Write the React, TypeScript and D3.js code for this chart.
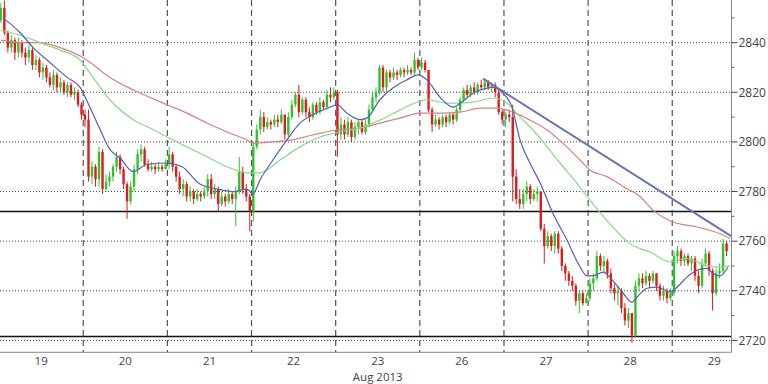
import React from "react";
import * as d3 from "d3";

// Hourly candles, 24 per trading day (day 29 partial)
const dayLabels = ["19", "20", "21", "22", "23", "26", "27", "28", "29"];
const monthLabel = "Aug 2013";
const candlesPerDay = 24;
const firstOpen = 2849;

const closes = [
  // 19
  2854, 2844, 2838, 2841, 2836, 2840, 2836, 2834, 2837, 2831, 2833, 2828, 2830, 2826, 2823, 2827, 2822, 2824, 2820, 2823, 2819, 2820, 2815, 2811,
  // 20
  2809, 2786, 2790, 2785, 2796, 2781, 2784, 2786, 2790, 2794, 2789, 2783, 2776, 2782, 2789, 2795, 2797, 2791, 2789, 2790, 2789, 2790, 2789, 2791,
  // 21
  2795, 2790, 2786, 2781, 2783, 2778, 2780, 2777, 2779, 2778, 2780, 2785, 2779, 2781, 2775, 2778, 2776, 2779, 2777, 2780, 2788, 2781, 2778, 2772,
  // 22
  2798, 2805, 2810, 2806, 2808, 2807, 2809, 2808, 2811, 2803, 2810, 2815, 2819, 2812, 2817, 2812, 2810, 2815, 2812, 2816, 2814, 2819, 2818, 2820,
  // 23
  2803, 2807, 2803, 2808, 2802, 2806, 2808, 2804, 2807, 2813, 2818, 2820, 2830, 2822, 2828, 2826, 2828, 2827, 2829, 2828, 2829, 2828, 2833, 2830,
  // 26
  2832, 2829, 2813, 2807, 2809, 2807, 2810, 2808, 2811, 2809, 2813, 2817, 2821, 2819, 2822, 2820, 2823, 2822, 2824, 2822, 2823, 2820, 2812, 2809,
  // 27
  2811, 2810, 2786, 2777, 2775, 2779, 2782, 2777, 2779, 2780, 2765, 2758, 2762, 2758, 2763, 2757, 2750, 2747, 2744, 2742, 2736, 2739, 2735, 2737,
  // 28
  2743, 2745, 2754, 2750, 2752, 2747, 2741, 2739, 2740, 2733, 2728, 2731, 2722, 2742, 2745, 2743, 2746, 2744, 2747, 2742, 2738, 2740, 2737, 2739,
  // 29
  2754, 2756, 2752, 2754, 2751, 2753, 2746, 2742, 2751, 2755, 2748, 2739, 2747, 2748, 2759, 2756,
];

const highs = [
  2856, 2857, 2845, 2843, 2842, 2842, 2841, 2838, 2839, 2838, 2835, 2834, 2832, 2831, 2828, 2829, 2828, 2826, 2825, 2824, 2824, 2822, 2821, 2816,
  2813, 2813, 2792, 2791, 2798, 2797, 2787, 2788, 2791, 2796, 2795, 2790, 2784, 2784, 2791, 2797, 2799, 2798, 2793, 2792, 2791, 2792, 2791, 2793,
  2798, 2796, 2791, 2788, 2785, 2784, 2782, 2781, 2781, 2780, 2782, 2787, 2787, 2783, 2782, 2780, 2779, 2781, 2780, 2782, 2794, 2790, 2783, 2779,
  2800, 2807, 2813, 2812, 2810, 2809, 2811, 2811, 2813, 2811, 2812, 2817, 2820, 2823, 2818, 2818, 2814, 2816, 2816, 2818, 2817, 2821, 2822, 2822,
  2821, 2810, 2809, 2810, 2809, 2808, 2809, 2809, 2809, 2815, 2820, 2822, 2831, 2831, 2829, 2829, 2830, 2829, 2830, 2830, 2831, 2830, 2836, 2834,
  2834, 2833, 2829, 2814, 2811, 2810, 2811, 2811, 2812, 2812, 2814, 2818, 2822, 2823, 2823, 2824, 2824, 2825, 2825, 2825, 2824, 2824, 2821, 2813,
  2812, 2813, 2815, 2789, 2781, 2781, 2784, 2783, 2781, 2782, 2780, 2767, 2764, 2763, 2764, 2764, 2758, 2751, 2748, 2746, 2743, 2740, 2740, 2739,
  2745, 2747, 2756, 2755, 2754, 2753, 2749, 2743, 2742, 2741, 2735, 2733, 2731, 2744, 2747, 2747, 2748, 2747, 2748, 2747, 2743, 2742, 2741, 2741,
  2756, 2758, 2757, 2755, 2755, 2754, 2754, 2748, 2753, 2757, 2756, 2749, 2749, 2751, 2761, 2760,
];

const lows = [
  2848, 2843, 2836, 2836, 2833, 2834, 2834, 2831, 2832, 2829, 2829, 2826, 2825, 2824, 2822, 2821, 2820, 2820, 2819, 2818, 2818, 2817, 2814, 2809,
  2806, 2784, 2783, 2782, 2782, 2779, 2780, 2782, 2784, 2788, 2787, 2781, 2769, 2775, 2780, 2787, 2792, 2790, 2788, 2788, 2787, 2788, 2788, 2789,
  2789, 2788, 2784, 2779, 2778, 2776, 2776, 2775, 2776, 2776, 2777, 2778, 2777, 2777, 2772, 2774, 2774, 2775, 2775, 2766, 2779, 2779, 2776, 2764,
  2768, 2797, 2803, 2804, 2805, 2805, 2806, 2806, 2807, 2801, 2802, 2809, 2814, 2810, 2811, 2810, 2808, 2809, 2811, 2811, 2813, 2813, 2816, 2817,
  2794, 2801, 2801, 2802, 2800, 2801, 2803, 2803, 2803, 2806, 2812, 2816, 2819, 2820, 2820, 2824, 2825, 2825, 2826, 2826, 2827, 2827, 2827, 2829,
  2829, 2828, 2812, 2804, 2806, 2805, 2806, 2806, 2807, 2807, 2808, 2812, 2816, 2818, 2818, 2819, 2819, 2821, 2821, 2821, 2820, 2818, 2811, 2807,
  2806, 2808, 2776, 2775, 2773, 2773, 2776, 2775, 2776, 2776, 2764, 2751, 2757, 2756, 2755, 2755, 2748, 2744, 2742, 2740, 2734, 2731, 2734, 2735,
  2736, 2740, 2744, 2748, 2747, 2745, 2739, 2736, 2734, 2731, 2726, 2725, 2719, 2721, 2740, 2741, 2742, 2741, 2743, 2740, 2736, 2736, 2735, 2736,
  2738, 2751, 2750, 2750, 2750, 2748, 2744, 2739, 2741, 2750, 2746, 2732, 2738, 2745, 2747, 2754,
];

// Moving averages: [candle index, value]
const maFast: [number, number][] = [
  [0.6, 2850], [5.5, 2844], [9.2, 2838], [14, 2832], [18.9, 2826], [22.6, 2822], [25.4, 2814], [28.3, 2805],
  [31.1, 2797], [34, 2793.5], [37.7, 2788], [41.7, 2791], [47.4, 2791.5], [51.7, 2790], [56.8, 2783], [61.7, 2781],
  [66.2, 2780], [70.2, 2781], [71.9, 2779], [73.9, 2784.6], [77.6, 2792.7], [81.6, 2800.8], [85.3, 2807.6], [89, 2811],
  [93.9, 2814], [95.9, 2815], [98.7, 2811.6], [102.4, 2809], [104.4, 2809.6], [108.1, 2817], [111.8, 2821.7], [115.8, 2825],
  [119, 2827], [121.5, 2825], [125.3, 2818], [129, 2814], [131, 2815.6], [134.7, 2819.6], [138.7, 2821.7], [140.4, 2822],
  [143.2, 2819.6], [145.8, 2814], [148.1, 2800.7], [150.9, 2791.5], [153.8, 2783.5], [157.5, 2771], [161.5, 2760.4], [164.3, 2752],
  [167.2, 2746], [168.9, 2746], [171.8, 2747.5], [174.6, 2744], [177.5, 2739], [180, 2735.4], [181.5, 2737.5], [184.3, 2741],
  [187.2, 2741.5], [190.9, 2739.5], [192.9, 2741.5], [195.7, 2745.5], [198.6, 2748.3], [201.4, 2749], [203.1, 2747], [205.1, 2746], [207.4, 2749.5],
];

const maMid: [number, number][] = [
  [0, 2845], [5.5, 2843], [11.2, 2840], [16.9, 2837], [22.6, 2833], [26.3, 2826], [31.1, 2817], [37.7, 2809],
  [43.4, 2805], [47.4, 2802], [53.1, 2798], [58.8, 2794], [64.5, 2790], [70.2, 2787.5], [73.9, 2787.5], [79.6, 2792.7],
  [85.3, 2798], [91, 2802], [96.7, 2804], [102.4, 2805.6], [108.1, 2808.8], [113.8, 2812.8], [118.7, 2816], [121.5, 2817],
  [127.3, 2815.6], [131, 2815.6], [134.7, 2816], [140.4, 2817.7], [144.4, 2815.6], [148.1, 2810], [151.8, 2804.8], [155.8, 2798],
  [159.5, 2791.5], [164.3, 2783.4], [168, 2776.5], [173.7, 2767], [179.4, 2759], [185.2, 2755.6], [190.9, 2751.6], [195.7, 2753],
  [201.4, 2750], [205.1, 2749.5], [208, 2750],
];

const maSlow: [number, number][] = [
  [0, 2841], [5.5, 2840], [11.2, 2840], [16.9, 2838], [23.4, 2834], [31.1, 2826], [37.7, 2821], [47.4, 2815],
  [53.1, 2811.6], [58.8, 2807.6], [64.5, 2804], [70.2, 2800.8], [71.9, 2799.5], [77.6, 2800], [82.5, 2800.7], [89, 2802.8],
  [95.9, 2804.8], [102.4, 2805.6], [108.1, 2807.6], [113.8, 2809.6], [119.5, 2811.6], [125.3, 2811.6], [131, 2812], [136.7, 2813.6],
  [141.5, 2813.6], [146.1, 2812], [150.9, 2808.8], [155.8, 2804.8], [160.3, 2799.5], [165.2, 2792.7], [168, 2788.7], [172.9, 2786],
  [177.5, 2782], [182.3, 2778], [186, 2772.5], [191.7, 2767.7], [198.6, 2765.7], [205.1, 2763], [208, 2761],
];

const trendLine: [number, number][] = [[137.5, 2825.5], [208.3, 2762]];
const levels = [2772, 2721.6];
const yTicks = [2720, 2740, 2760, 2780, 2800, 2820, 2840];
const yMinorTicks = [2730, 2750, 2770, 2790, 2810, 2830, 2850];

export default function App() {
  const W = 768;
  const H = 384;
  const plotRight = 731.5;
  const plotBottom = 352.3;

  const x = d3.scaleLinear().domain([-0.5, 208.5]).range([-0.9, 731.85]);
  const y = d3.scaleLinear().domain([2715.2, 2857.2]).range([plotBottom, 0]);

  const candles = closes.map((c, i) => ({
    i,
    o: i === 0 ? firstOpen : closes[i - 1],
    c,
    h: highs[i],
    l: lows[i],
  }));

  const line = d3
    .line<[number, number]>()
    .x((d) => x(d[0]))
    .y((d) => y(d[1]))
    .curve(d3.curveMonotoneX);
  const straight = d3
    .line<[number, number]>()
    .x((d) => x(d[0]))
    .y((d) => y(d[1]));

  const separators = d3.range(1, dayLabels.length).map((k) => k * candlesPerDay - 0.5);
  const bw = 2.4;
  const green = "#2fc42f";
  const red = "#dd1c1c";
  const font = "'Open Sans', 'DejaVu Sans', sans-serif";

  return (
    <svg
      width={W}
      height={H}
      style={{ position: "absolute", left: 0, top: 0, background: "#fff" }}
      fontFamily={font}
    >
      <defs>
        <clipPath id="plot">
          <rect x={0} y={0} width={plotRight} height={plotBottom} />
        </clipPath>
      </defs>
      <rect x={0} y={0} width={W} height={H} fill="#fff" />
      {yTicks.map((t) => (
        <line key={t} x1={0} x2={plotRight} y1={y(t)} y2={y(t)} stroke="#444" strokeWidth={1} strokeDasharray="1,2" />
      ))}
      {separators.map((s) => (
        <line key={s} x1={x(s)} x2={x(s)} y1={0} y2={plotBottom} stroke="#555" strokeWidth={1.2} strokeDasharray="6,4" />
      ))}
      {levels.map((v) => (
        <line key={v} x1={0} x2={plotRight} y1={y(v)} y2={y(v)} stroke="#111" strokeWidth={1.5} />
      ))}
      <g clipPath="url(#plot)">
        {candles.map((d) => {
          const col = d.c >= d.o ? green : red;
          const top = y(Math.max(d.o, d.c));
          const bot = y(Math.min(d.o, d.c));
          return (
            <g key={d.i}>
              <line x1={x(d.i)} x2={x(d.i)} y1={y(d.h)} y2={y(d.l)} stroke={col} strokeWidth={1} />
              <rect x={x(d.i) - bw / 2} y={top} width={bw} height={Math.max(1, bot - top)} fill={col} />
            </g>
          );
        })}
        <path d={line(maSlow) || ""} fill="none" stroke="#d98282" strokeWidth={1.2} />
        <path d={line(maMid) || ""} fill="none" stroke="#86dc86" strokeWidth={1.2} />
        <path d={line(maFast) || ""} fill="none" stroke="#5560b4" strokeWidth={1.2} />
        <path d={straight(trendLine) || ""} fill="none" stroke="#6a72b2" strokeWidth={2} />
      </g>
      <line x1={plotRight} x2={plotRight} y1={0} y2={plotBottom} stroke="#888" strokeWidth={1} />
      <line x1={0} x2={plotRight} y1={plotBottom} y2={plotBottom} stroke="#888" strokeWidth={1} />
      {yTicks.map((t) => (
        <g key={t}>
          <line x1={plotRight} x2={plotRight + 6} y1={y(t)} y2={y(t)} stroke="#444" strokeWidth={1} />
          <text x={738.5} y={y(t)} dy="0.36em" fontSize={12} fill="#444">
            {t}
          </text>
        </g>
      ))}
      {yMinorTicks.map((t) => (
        <line key={t} x1={plotRight} x2={plotRight + 3} y1={y(t)} y2={y(t)} stroke="#666" strokeWidth={1} />
      ))}
      {dayLabels.map((lab, k) => (
        <text key={lab} x={x(k * candlesPerDay + 11.5)} y={365} textAnchor="middle" fontSize={11.5} fill="#444">
          {lab}
        </text>
      ))}
      <text x={x(4 * candlesPerDay + 11.5)} y={381} textAnchor="middle" fontSize={11.5} fill="#444">
        {monthLabel}
      </text>
    </svg>
  );
}
